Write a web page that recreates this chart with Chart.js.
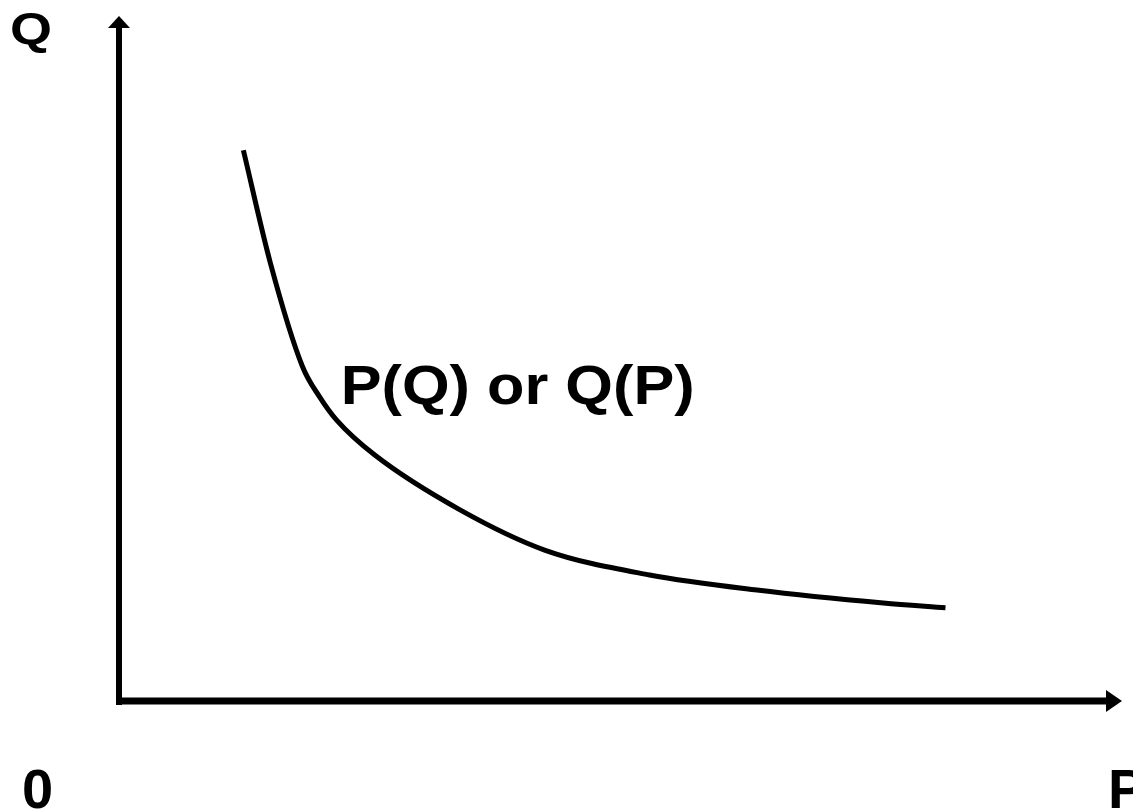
<!DOCTYPE html>
<html lang="en">

<head>
    <meta charset="UTF-8">
    <title>P(Q) or Q(P)</title>
    <script src="https://cdn.jsdelivr.net/npm/chart.js"></script>
    <style>
        body { margin: 0; background: #fff; }
        #wrap { width: 1133px; height: 809px; }
    </style>
</head>

<body>
    <div id="wrap"><canvas id="curva" width="1133" height="809"></canvas></div>

    <script>
        // punts de la corba llegits de la imatge (eix P, eix Q)
        const pValues = [1.24, 1.51, 1.83, 2.00, 2.17, 2.55, 3.40, 4.25, 5.29, 6.36, 7.62, 8.24];
        const qValues = [8.04, 6.39, 4.88, 4.44, 4.10, 3.59, 2.79, 2.20, 1.84, 1.62, 1.43, 1.36];
        const curveLabel = "P(Q) or Q(P)";
        const axisLabels = { x: "P", y: "Q", origin: "0" };

        const points = pValues.map((p, i) => ({ x: p, y: qValues[i] }));

        // dibuixa text estirat fins a una amplada donada
        function stretchText(ctx, text, x, y, font, width) {
            ctx.save();
            ctx.font = font;
            const w = ctx.measureText(text).width;
            const s = width ? width / w : 1;
            ctx.translate(x, y);
            ctx.scale(s, 1);
            ctx.fillText(text, 0, 0);
            ctx.restore();
        }

        // eixos amb fletxes i etiquetes
        const axesPlugin = {
            id: 'axes',
            afterDatasetsDraw(chart) {
                const { ctx, chartArea, scales } = chart;
                const x0 = scales.x.getPixelForValue(0);
                const y0 = scales.y.getPixelForValue(0);
                const xEnd = chartArea.right;
                const yEnd = chartArea.top;

                ctx.save();
                ctx.fillStyle = '#000';
                ctx.strokeStyle = '#000';
                ctx.lineCap = 'butt';

                // eix vertical
                ctx.lineWidth = 6;
                ctx.beginPath();
                ctx.moveTo(x0, y0 + 4);
                ctx.lineTo(x0, yEnd + 8);
                ctx.stroke();
                ctx.beginPath();
                ctx.moveTo(x0, yEnd);
                ctx.lineTo(x0 - 11, yEnd + 12);
                ctx.lineTo(x0 + 11, yEnd + 12);
                ctx.closePath();
                ctx.fill();

                // eix horitzontal
                ctx.lineWidth = 7;
                ctx.beginPath();
                ctx.moveTo(x0 - 3, y0);
                ctx.lineTo(xEnd - 10, y0);
                ctx.stroke();
                ctx.beginPath();
                ctx.moveTo(xEnd, y0);
                ctx.lineTo(xEnd - 16, y0 - 11);
                ctx.lineTo(xEnd - 16, y0 + 11);
                ctx.closePath();
                ctx.fill();

                // etiquetes
                ctx.textBaseline = 'alphabetic';
                stretchText(ctx, axisLabels.y, 10, 44, 'bold 44px "Liberation Sans"', 42);
                stretchText(ctx, axisLabels.origin, 22, 808, 'bold 56px "Liberation Sans"', 0);
                stretchText(ctx, axisLabels.x, 1108, 808, 'bold 56px "Liberation Sans"', 0);

                // nom de la corba
                const lx = scales.x.getPixelForValue(2.25);
                const ly = scales.y.getPixelForValue(4.34);
                stretchText(ctx, curveLabel, lx - 4, ly, 'bold 56px "Liberation Sans"', 354);
                ctx.restore();
            }
        };

        const ctx = document.getElementById('curva').getContext('2d');
        new Chart(ctx, {
            type: 'line',
            data: {
                datasets: [{
                    data: points,
                    borderColor: '#000',
                    borderWidth: 5,
                    pointRadius: 0,
                    fill: false,
                    cubicInterpolationMode: 'monotone'
                }]
            },
            options: {
                responsive: false,
                animation: false,
                events: [],
                layout: { padding: { left: 119, right: 11, top: 16, bottom: 108 } },
                plugins: { legend: { display: false }, tooltip: { enabled: false } },
                scales: {
                    x: { type: 'linear', min: 0, max: 10, display: false },
                    y: { type: 'linear', min: 0, max: 10, display: false }
                }
            },
            plugins: [axesPlugin]
        });
    </script>
</body>

</html>
